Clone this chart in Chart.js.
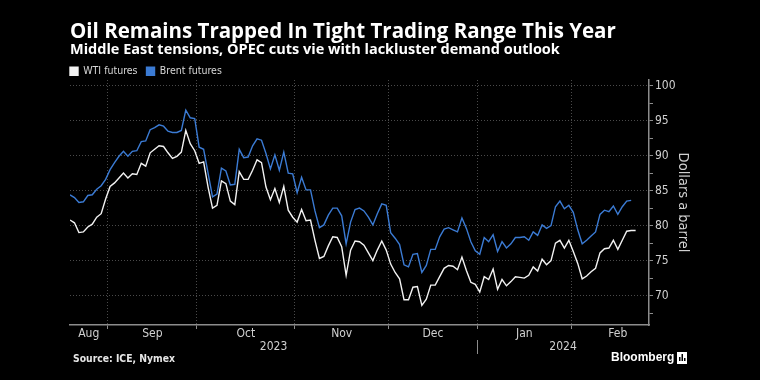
<!DOCTYPE html>
<html>
<head>
<meta charset="utf-8">
<script src="https://cdn.jsdelivr.net/npm/chart.js@4.4.1/dist/chart.umd.min.js"></script>
<style>
  html, body { margin: 0; padding: 0; background: #000; }
  #wrap { width: 760px; height: 380px; position: relative; }
</style>
</head>
<body>
<div id="wrap"><canvas id="oil-chart"></canvas></div>
<script>
// daily settlements, one value per trading day from Aug 21 2023
const wtiFutures = [
  80.8, 80.4, 79.0, 79.1, 79.8, 80.2, 81.2, 81.7, 83.8, 85.6,
  86.1, 86.8, 87.5, 86.8, 87.4, 87.3, 88.9, 88.5, 90.4, 90.9,
  91.4, 91.3, 90.4, 89.6, 89.9, 90.5, 93.6, 91.7, 90.7, 88.9,
  89.1, 85.5, 82.5, 82.9, 86.4, 86.0, 83.5, 83.0, 87.7, 86.6,
  86.6, 87.9, 89.4, 89.0, 85.5, 83.7, 85.3, 83.3, 85.6, 82.2,
  81.2, 80.5, 82.3, 80.7, 80.8, 77.9, 75.3, 75.6, 77.1, 78.4,
  78.3, 77.0, 72.9, 76.5, 77.8, 77.7, 77.2, 76.1, 75.0, 76.5,
  77.8, 76.5, 74.5, 73.3, 72.4, 69.4, 69.4, 71.2, 71.3, 68.6,
  69.5, 71.5, 71.5, 72.7, 73.9, 74.3, 74.2, 73.7, 75.5, 73.6,
  71.9, 71.6, 70.5, 72.7, 72.3, 73.8, 70.9, 72.3, 71.4, 72.0,
  72.7, 72.6, 72.5, 72.9, 74.1, 73.5, 75.2, 74.4, 75.0, 77.5,
  77.9, 76.8, 77.9, 76.3, 74.6, 72.4, 72.8, 73.4, 73.9, 76.1,
  76.7, 76.8, 77.9, 76.6, 77.9, 79.2, 79.3, 79.3
];
const brentFutures = [
  84.4, 84.0, 83.3, 83.4, 84.3, 84.4, 85.2, 85.7, 86.6, 88.0,
  89.0, 89.9, 90.6, 89.9, 90.6, 90.7, 92.0, 92.1, 93.7, 94.0,
  94.4, 94.2, 93.5, 93.3, 93.3, 93.6, 96.5, 95.4, 95.3, 91.2,
  90.9, 87.5, 84.1, 84.5, 88.2, 87.8, 85.8, 85.9, 90.9, 89.7,
  89.8, 91.4, 92.4, 92.2, 90.3, 88.1, 90.1, 87.9, 90.5, 87.5,
  87.4, 84.7, 86.9, 85.1, 85.1, 82.1, 79.7, 80.1, 81.5, 82.5,
  82.5, 81.4, 77.4, 80.5, 82.3, 82.5, 82.1, 81.2, 80.1, 81.7,
  83.1, 82.9, 79.0, 78.2, 77.3, 74.4, 74.1, 75.9, 76.0, 73.3,
  74.3, 76.6, 76.6, 78.4, 79.5, 79.7, 79.4, 79.1, 81.1, 79.6,
  77.7, 76.4, 75.9, 78.3, 77.7, 78.7, 76.3, 77.7, 76.8, 77.4,
  78.3, 78.3, 78.4, 77.9, 79.1, 78.6, 80.1, 79.6, 80.0, 82.7,
  83.5, 82.4, 82.9, 81.9, 79.4, 77.4, 77.9, 78.5, 79.1, 81.6,
  82.2, 82.0, 82.8, 81.6, 82.7, 83.5, 83.6
];

// x axis is in trading days; month edges fall between the last and first session
const monthEdges = [8.5, 28.5, 50.5, 71.5, 91.5, 112.5];
const monthLabels = ['Aug', 'Sep', 'Oct', 'Nov', 'Dec', 'Jan', 'Feb'];
const monthLabelAt = [4.2, 18.5, 39.5, 61, 81.5, 102, 123];
const yearLabels = ['2023', '2024'];
const yearLabelAt = [45.7, 110.7];
const yearEdge = 91.5;
const priceTicks = [67.5, 70, 72.5, 75, 77.5, 80, 82.5, 85, 87.5, 90, 92.5, 95, 97.5, 100];

const tickFont = "'Liberation Sans Narrow', 'DejaVu Sans Condensed', sans-serif";
const gridGray = '#4a4a4a';
const axisGray = '#8c8c8c';

const days = wtiFutures.map((v, i) => i);

// legend starts flush with the title, not one padding to the right
const legendShift = {
  id: 'legendShift',
  afterLayout(chart) {
    const lg = chart.legend;
    const p = lg.options.labels.padding;
    lg.left -= p;
    lg.right -= p;
  }
};

const footer = {
  id: 'footer',
  afterDraw(chart) {
    const ctx = chart.ctx;
    ctx.save();
    ctx.fillStyle = '#e6e6e6';
    ctx.textBaseline = 'middle';
    ctx.font = "bold 10.3px 'DejaVu Sans Condensed', sans-serif";
    ctx.fillText('Source: ICE, Nymex', 73, 359);
    ctx.fillStyle = '#ffffff';
    ctx.font = "bold 12px 'Liberation Sans Narrow', sans-serif";
    ctx.fillText('Bloomberg', 611, 358);
    // little terminal icon
    ctx.fillRect(677, 352, 10, 12);
    ctx.fillStyle = '#000';
    ctx.fillRect(679, 357, 1.5, 4);
    ctx.fillRect(681.5, 354, 1.5, 7);
    ctx.fillRect(684, 358, 1.5, 3);
    ctx.restore();
  }
};

new Chart(document.getElementById('oil-chart'), {
  type: 'line',
  data: {
    labels: days,
    datasets: [
      {
        label: 'WTI futures',
        data: wtiFutures,
        borderColor: '#f2f2f2',
        backgroundColor: '#f2f2f2',
        borderWidth: 1.4,
        pointRadius: 0,
        tension: 0,
        xAxisID: 'x'
      },
      {
        label: 'Brent futures',
        data: brentFutures,
        borderColor: '#3b7bd4',
        backgroundColor: '#3b7bd4',
        borderWidth: 1.4,
        pointRadius: 0,
        tension: 0,
        xAxisID: 'x'
      }
    ]
  },
  options: {
    responsive: true,
    maintainAspectRatio: false,
    animation: false,
    events: [],
    layout: { padding: { top: 22, left: 70, right: 65, bottom: 24 } },
    plugins: {
      title: {
        display: true,
        align: 'start',
        text: 'Oil Remains Trapped In Tight Trading Range This Year',
        color: '#ffffff',
        font: { family: "'Open Sans', sans-serif", size: 20.5, weight: 'bold', lineHeight: 1.0 },
        padding: { top: 0, bottom: 0 }
      },
      subtitle: {
        display: true,
        align: 'start',
        text: 'Middle East tensions, OPEC cuts vie with lackluster demand outlook',
        color: '#ffffff',
        font: { family: "'Open Sans', sans-serif", size: 14.5, weight: 'bold', lineHeight: 1.0 },
        padding: { top: 0, bottom: 0 }
      },
      legend: {
        display: true,
        align: 'start',
        maxHeight: 23,
        labels: {
          color: '#d8d8d8',
          boxWidth: 8,
          boxHeight: 8,
          padding: 9,
          font: { family: tickFont, size: 10.5 }
        }
      },
      tooltip: { enabled: false }
    },
    scales: {
      x: {
        type: 'linear',
        position: 'bottom',
        min: 0,
        max: 130,
        afterBuildTicks: (s) => {
          s.ticks = monthEdges.concat(monthLabelAt).sort((a, b) => a - b).map(v => ({ value: v }));
        },
        afterFit: (s) => { s.height = 15; },
        grid: {
          color: (c) => monthEdges.includes(c.tick && c.tick.value) ? gridGray : 'transparent',
          tickColor: (c) => monthEdges.includes(c.tick && c.tick.value) ? axisGray : 'transparent',
          tickLength: 4,
          lineWidth: 1
        },
        border: { display: true, color: axisGray, width: 1.5, dash: [1, 2] },
        ticks: {
          autoSkip: false,
          maxRotation: 0,
          padding: -2,
          color: '#d0d0d0',
          font: { family: tickFont, size: 12 },
          callback: (v) => {
            const k = monthLabelAt.indexOf(v);
            return k >= 0 ? monthLabels[k] : '';
          }
        }
      },
      years: {
        type: 'linear',
        position: 'bottom',
        min: 0,
        max: 130,
        afterBuildTicks: (s) => {
          s.ticks = [yearLabelAt[0], yearEdge, yearLabelAt[1]].map(v => ({ value: v }));
        },
        afterFit: (s) => { s.height = 16; },
        grid: {
          drawOnChartArea: false,
          tickLength: 14,
          tickColor: (c) => c.tick && c.tick.value === yearEdge ? axisGray : 'transparent'
        },
        border: { display: false },
        ticks: {
          autoSkip: false,
          maxRotation: 0,
          padding: -14,
          color: '#d0d0d0',
          font: { family: tickFont, size: 12 },
          callback: (v) => {
            const k = yearLabelAt.indexOf(v);
            return k >= 0 ? yearLabels[k] : '';
          }
        }
      },
      y: {
        type: 'linear',
        position: 'right',
        min: 65.8,
        max: 100.8,
        afterBuildTicks: (s) => {
          s.ticks = priceTicks.map(v => ({ value: v }));
        },
        afterFit: (s) => { s.width = 46; },
        grid: {
          color: (c) => c.tick && c.tick.value % 5 === 0 ? gridGray : 'transparent',
          tickColor: axisGray,
          tickLength: 4,
          lineWidth: 1
        },
        border: { display: true, color: axisGray, width: 1.5, dash: [1, 2] },
        ticks: {
          padding: 2,
          color: '#d0d0d0',
          font: { family: tickFont, size: 12 },
          callback: (v) => (v % 5 === 0 ? v : '')
        },
        title: {
          display: true,
          text: 'Dollars a barrel',
          color: '#d0d0d0',
          font: { family: tickFont, size: 14.5 },
          padding: { top: 4, bottom: 0 }
        }
      }
    }
  },
  plugins: [legendShift, footer]
});
</script>
</body>
</html>
